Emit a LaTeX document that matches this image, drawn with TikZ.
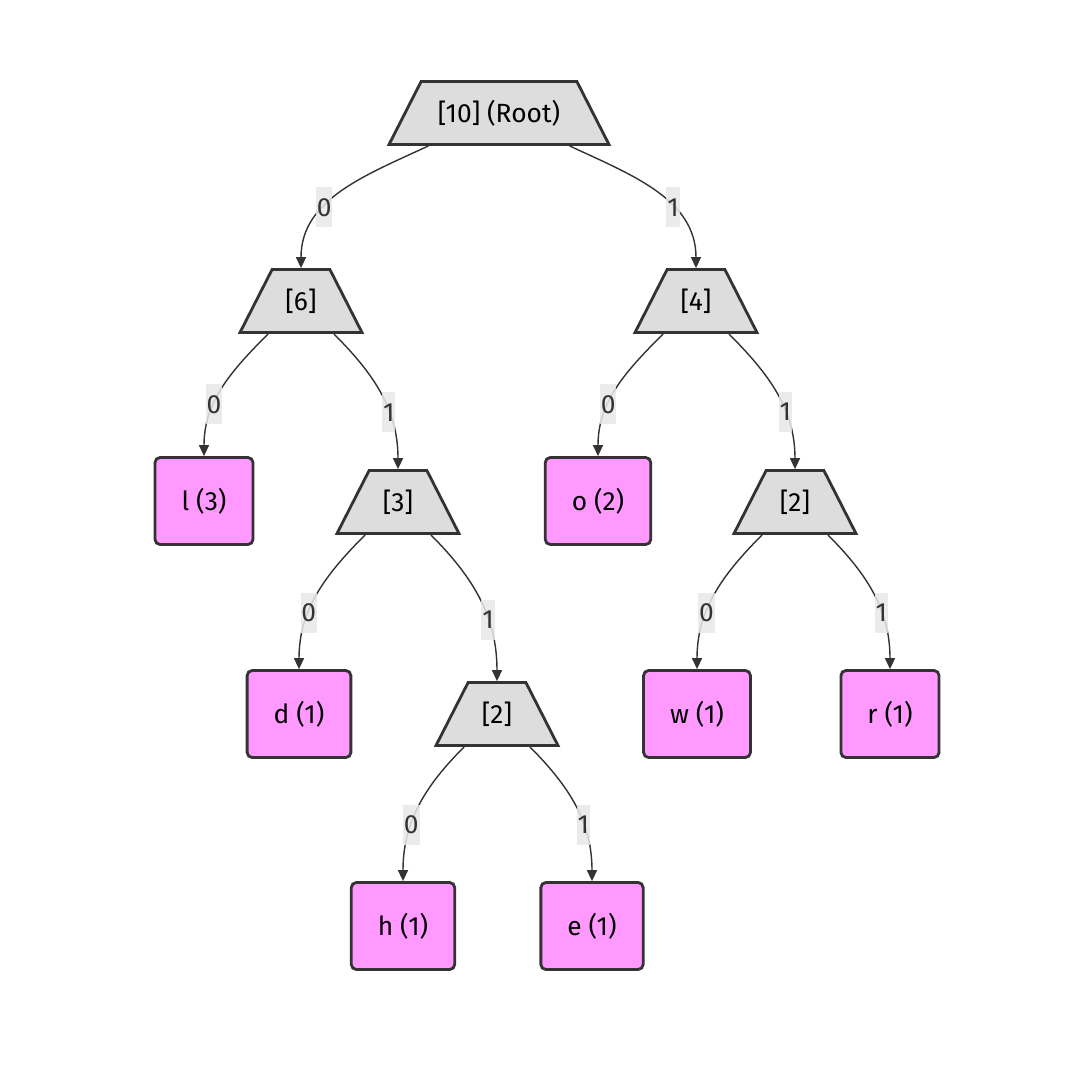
\documentclass[tikz,border=0pt]{standalone}
\usepackage{fontspec}
\setmainfont{Fira Sans}
\usetikzlibrary{shapes.geometric,arrows.meta}
\definecolor{leafpink}{HTML}{FF99FF}
\definecolor{innergray}{HTML}{DDDDDD}
\definecolor{edgegray}{HTML}{333333}
\definecolor{labelbg}{HTML}{E8E8E8}

\begin{document}
\begin{tikzpicture}[x=0.02cm, y=-0.02cm,
    every node/.style={font=\fontsize{15}{18}\selectfont},
    internal/.style={trapezium, trapezium left angle=63, trapezium right angle=63,
        trapezium stretches body, draw=edgegray, fill=innergray, line width=1.6pt,
        text height=0.405cm, text depth=0.045cm, inner ysep=0.405cm, minimum width=2.44cm},
    leaf/.style={rectangle, rounded corners=0.1cm, draw=edgegray, fill=leafpink,
        line width=1.6pt, minimum height=1.74cm, inner xsep=0.53cm},
    branch/.style={draw=edgegray, line width=0.8pt, -{Triangle[length=0.22cm,width=0.2cm]}},
    bit/.style={fill=labelbg, fill opacity=0.85, text opacity=1, text=edgegray,
        inner xsep=0.5pt, minimum height=0.8cm, pos=0.63}]
    \useasboundingbox (0,0) rectangle (1074,1089);

    \node[internal, minimum width=4.4cm] (root) at (499,113) {[10] (Root)};
    \node[internal] (n6) at (301,301) {[6]};
    \node[internal] (n4) at (696,301) {[4]};
    \node[leaf] (l) at (204,501) {l (3)};
    \node[internal] (n3) at (398,502) {[3]};
    \node[leaf] (o) at (598,501) {o (2)};
    \node[internal] (n2r) at (795,502) {[2]};
    \node[leaf] (d) at (299,714) {d (1)};
    \node[internal] (n2m) at (497,714) {[2]};
    \node[leaf] (w) at (697,714) {w (1)};
    \node[leaf] (r) at (890,714) {r (1)};
    \node[leaf] (h) at (403,926) {h (1)};
    \node[leaf] (e) at (592,926) {e (1)};

    \draw[branch] (root) to[out=-155,in=90] node[bit] {0} (n6);
    \draw[branch] (root) to[out=-25,in=90] node[bit] {1} (n4);
    \draw[branch] (n6) to[out=-135,in=90] node[bit] {0} (l);
    \draw[branch] (n6) to[out=-45,in=90] node[bit] {1} (n3);
    \draw[branch] (n4) to[out=-135,in=90] node[bit] {0} (o);
    \draw[branch] (n4) to[out=-45,in=90] node[bit] {1} (n2r);
    \draw[branch] (n3) to[out=-135,in=90] node[bit] {0} (d);
    \draw[branch] (n3) to[out=-45,in=90] node[bit] {1} (n2m);
    \draw[branch] (n2r) to[out=-135,in=90] node[bit] {0} (w);
    \draw[branch] (n2r) to[out=-45,in=90] node[bit] {1} (r);
    \draw[branch] (n2m) to[out=-135,in=90] node[bit] {0} (h);
    \draw[branch] (n2m) to[out=-45,in=90] node[bit] {1} (e);
\end{tikzpicture}
\end{document}
